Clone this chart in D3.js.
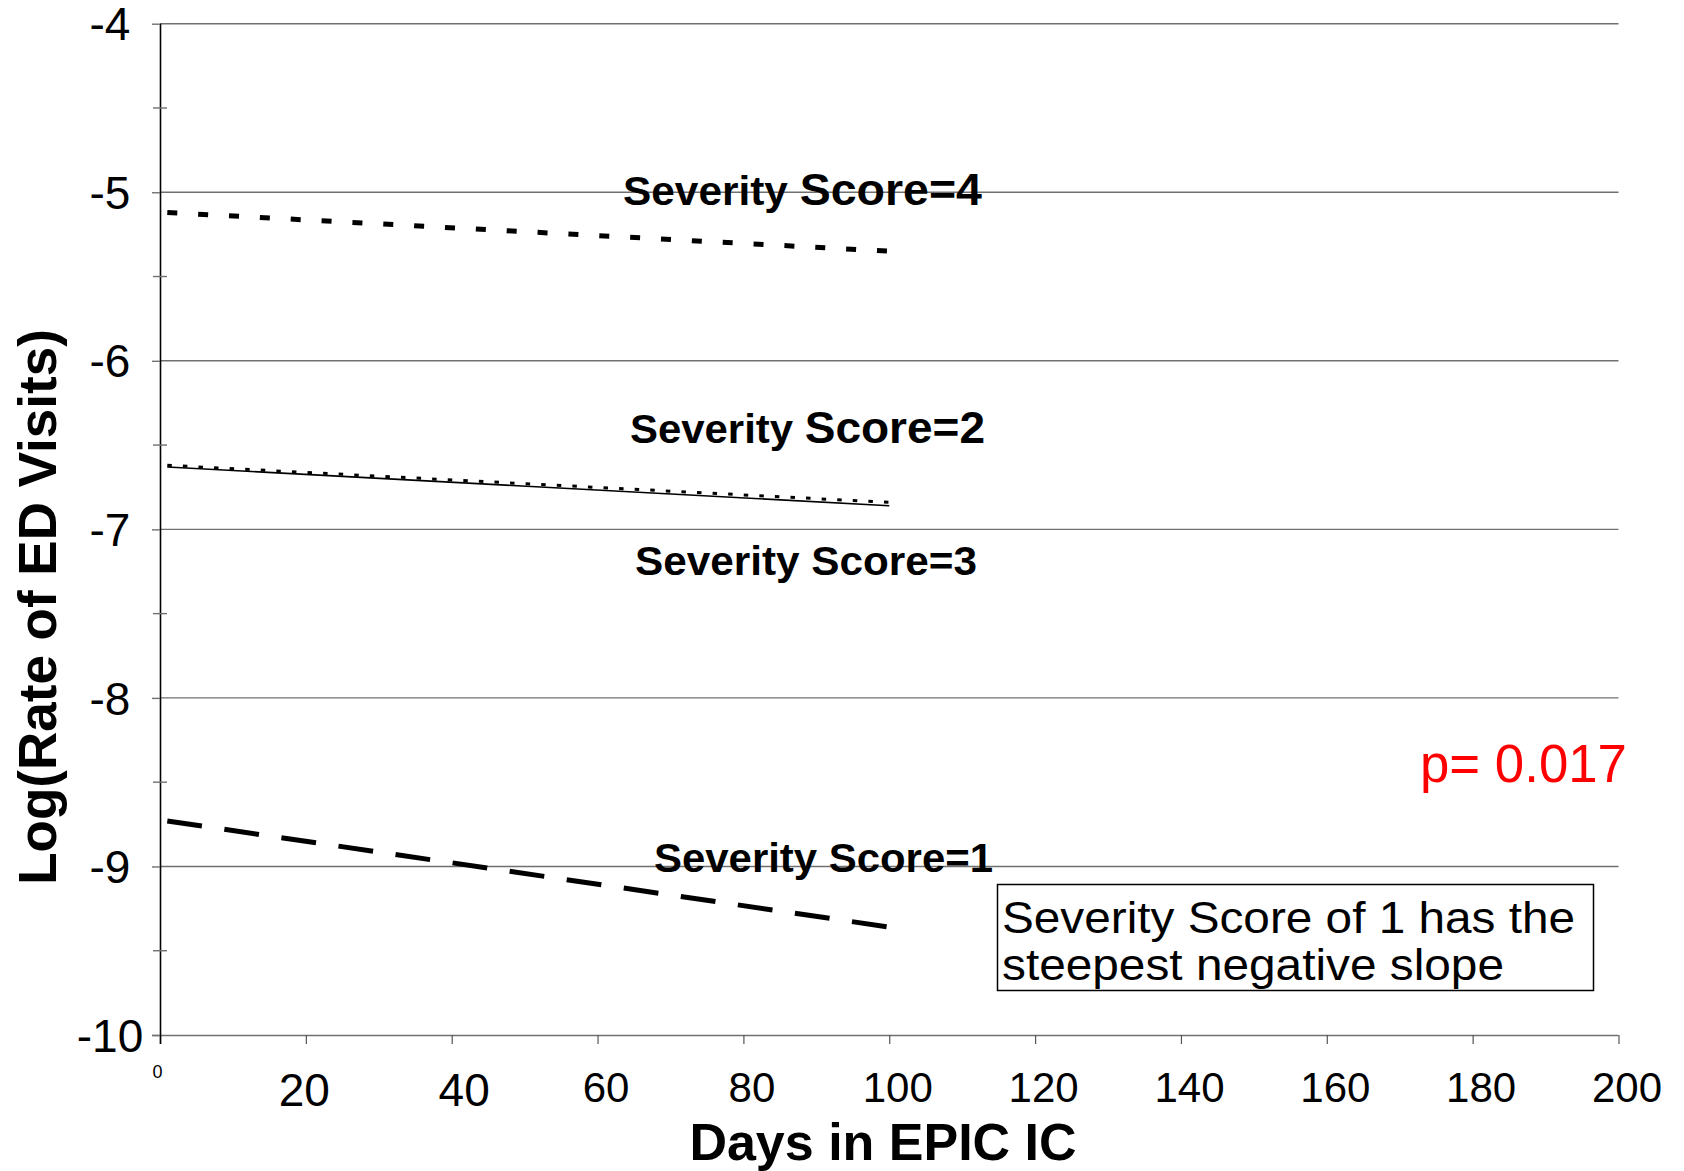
<!DOCTYPE html>
<html>
<head>
<meta charset="utf-8">
<script src="https://cdn.jsdelivr.net/npm/d3@7"></script>
<style>
  body { margin: 0; background: #fff; }
  svg { display: block; font-family: "Liberation Sans", Arial, sans-serif; }
</style>
</head>
<body>
<svg id="chart" width="1684" height="1171"></svg>
<script>
// data
const days = [1, 100];
const sev4 = [-5.12, -5.35];
const sev2 = [-6.62, -6.84];
const sev3 = [-6.63, -6.86];
const sev1 = [-8.73, -9.36];

const xTicks = [0, 20, 40, 60, 80, 100, 120, 140, 160, 180, 200];
const yMajor = [-4, -5, -6, -7, -8, -9, -10];
const yMinor = [-4.5, -5.5, -6.5, -7.5, -8.5, -9.5];

const svg = d3.select("#chart");

const x = d3.scaleLinear().domain([0, 200]).range([160, 1618.5]);
const y = d3.scaleLinear().domain([-10, -4]).range([1035, 23.7]);

// gridlines
svg.append("g")
  .selectAll("line")
  .data(yMajor.filter((d) => d !== -10))
  .enter()
  .append("line")
  .attr("x1", x(0))
  .attr("x2", x(200))
  .attr("y1", (d) => y(d))
  .attr("y2", (d) => y(d))
  .style("stroke", "#707070")
  .style("stroke-width", 1.4);

// x axis
const xAxis = svg.append("g")
  .attr("transform", `translate(0,${y(-10)})`)
  .call(d3.axisBottom(x).tickValues(xTicks).tickSize(9).tickSizeOuter(0).tickFormat((d) => String(d)));
xAxis.select(".domain").attr("d", `M${x(0) - 8},0.5H${x(200)}`)
  .style("stroke", "#707070").style("stroke-width", 1.6);
xAxis.selectAll(".tick line").style("stroke", "#555").style("stroke-width", 1.2);
xAxis.selectAll(".tick text")
  .attr("fill", "#000")
  .attr("dy", null)
  .attr("y", (d) => (d === 0 ? 43 : d <= 40 ? 71 : 67))
  .attr("dx", (d) => (d === 0 ? -3 : d === 20 ? -2 : d === 40 ? 12 : 8))
  .attr("font-size", (d) => (d === 0 ? 18 : d <= 40 ? 46 : 42))
  .attr("font-family", null);

// y axis
const yAxis = svg.append("g")
  .attr("transform", `translate(${x(0)},0)`)
  .call(d3.axisLeft(y).tickValues(yMajor).tickSize(8).tickSizeOuter(0).tickFormat((d) => String(d)));
yAxis.select(".domain").attr("d", `M0.5,${y(-4)}V${y(-10) + 9}`)
  .style("stroke", "#000").style("stroke-width", 1.6);
yAxis.selectAll(".tick line").style("stroke", "#707070").style("stroke-width", 1.4);
yAxis.selectAll(".tick text")
  .attr("fill", "#000")
  .attr("x", -50)
  .attr("dy", "0.35em")
  .attr("text-anchor", "middle")
  .attr("font-size", 46)
  .attr("font-family", null);

// minor ticks crossing the axis
svg.append("g")
  .selectAll("line")
  .data(yMinor)
  .enter()
  .append("line")
  .attr("x1", x(0) - 7)
  .attr("x2", x(0) + 7)
  .attr("y1", (d) => y(d))
  .attr("y2", (d) => y(d))
  .style("stroke", "#707070")
  .style("stroke-width", 1.4);

// the four fitted lines
const line = d3.line().x((d) => x(d[0])).y((d) => y(d[1]));
const series = [
  { vals: sev3, width: 1.6, dash: null },
  { vals: sev2, width: 3, dash: "4.5,11.1" },
  { vals: sev4, width: 5, dash: "10,20.9" },
  { vals: sev1, width: 5, dash: "35,22.67" },
];
svg.append("g")
  .selectAll("path")
  .data(series)
  .enter()
  .append("path")
  .attr("d", (s) => line(days.map((d, i) => [d, s.vals[i]])))
  .style("fill", "none")
  .style("stroke", "#000")
  .style("stroke-width", (s) => s.width)
  .style("stroke-dasharray", (s) => s.dash);

// series labels
const labels = [
  { a: "Severity", b: "Score=4", x: 623, y: 205, w: 359, fa: 41, fb: 45 },
  { a: "Severity", b: "Score=2", x: 630, y: 443, w: 355, fa: 41, fb: 45 },
  { a: "Severity", b: "Score=3", x: 635, y: 575, w: 342, fa: 40, fb: 40 },
  { a: "Severity", b: "Score=1", x: 654, y: 872, w: 339, fa: 40, fb: 40 },
];
labels.forEach((l) => {
  const t = svg.append("text")
    .attr("x", l.x)
    .attr("y", l.y)
    .attr("font-weight", "bold")
    .attr("textLength", l.w)
    .attr("lengthAdjust", "spacingAndGlyphs");
  t.append("tspan").attr("font-size", l.fa).text(l.a + " ");
  t.append("tspan").attr("font-size", l.fb).text(l.b);
});

// p value
svg.append("text")
  .attr("x", 1420)
  .attr("y", 782)
  .attr("font-size", 53)
  .attr("fill", "#ff0000")
  .attr("textLength", 207)
  .attr("lengthAdjust", "spacingAndGlyphs")
  .text("p= 0.017");

// note box
svg.append("rect")
  .attr("x", 997.5)
  .attr("y", 884.5)
  .attr("width", 596)
  .attr("height", 106)
  .style("fill", "#fff")
  .style("stroke", "#000")
  .style("stroke-width", 1.5);
const note = ["Severity Score of 1 has the", "steepest negative slope"];
const noteW = [573, 502];
svg.append("g")
  .selectAll("text")
  .data(note)
  .enter()
  .append("text")
  .attr("x", 1002)
  .attr("y", (d, i) => 933 + i * 47)
  .attr("font-size", 44)
  .attr("textLength", (d, i) => noteW[i])
  .attr("lengthAdjust", "spacingAndGlyphs")
  .text((d) => d);

// axis titles
svg.append("text")
  .attr("x", 883)
  .attr("y", 1160)
  .attr("text-anchor", "middle")
  .attr("font-size", 52)
  .attr("font-weight", "bold")
  .text("Days in EPIC IC");

svg.append("text")
  .attr("transform", "translate(56,607) rotate(-90)")
  .attr("text-anchor", "middle")
  .attr("font-size", 53)
  .attr("font-weight", "bold")
  .text("Log(Rate of ED Visits)");
</script>
</body>
</html>
